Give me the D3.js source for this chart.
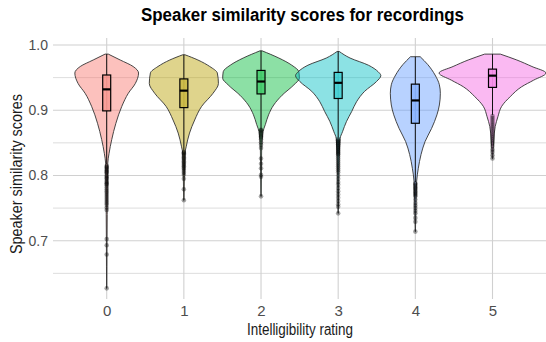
<!DOCTYPE html>
<html>
<head>
<meta charset="utf-8">
<script src="https://cdn.jsdelivr.net/npm/d3@7"></script>
<style>
  html, body { margin: 0; padding: 0; background: #fff; }
  svg { display: block; }
  text { font-family: "Liberation Sans", Arial, sans-serif; }
</style>
</head>
<body>
<svg id="chart" width="546" height="342"></svg>
<script>
// ---------------- data ----------------
const categories = ["0", "1", "2", "3", "4", "5"];
const colors = ["#F8766D", "#B79F00", "#00BA38", "#00BFC4", "#619CFF", "#F564E3"];
const yTicks = [0.7, 0.8, 0.9, 1.0];
const yMinorTicks = [0.65, 0.75, 0.85, 0.95];

// violin density profiles: [score, relative density]
const violin0 = [[0.986,0.03],[0.977,0.25],[0.967,0.49],[0.957,0.59],[0.941,0.53],[0.926,0.40],[0.906,0.28],[0.88,0.17],[0.855,0.093],[0.834,0.044],[0.819,0.02],[0.78,0.012],[0.74,0.009],[0.70,0.006],[0.66,0.004],[0.627,0.002]];
const violin1 = [[0.985,0.02],[0.977,0.26],[0.967,0.48],[0.957,0.62],[0.941,0.64],[0.926,0.54],[0.906,0.33],[0.885,0.2],[0.865,0.105],[0.844,0.043],[0.834,0.02],[0.80,0.01],[0.762,0.003]];
const violin2 = [[0.991,0.02],[0.98,0.33],[0.969,0.57],[0.959,0.70],[0.949,0.71],[0.939,0.61],[0.923,0.39],[0.908,0.235],[0.893,0.14],[0.878,0.08],[0.867,0.037],[0.84,0.012],[0.80,0.006],[0.768,0.002]];
const violin3 = [[0.99,0.02],[0.98,0.22],[0.969,0.56],[0.959,0.74],[0.953,0.79],[0.944,0.71],[0.929,0.49],[0.913,0.34],[0.898,0.25],[0.883,0.155],[0.867,0.08],[0.857,0.037],[0.82,0.015],[0.78,0.008],[0.742,0.002]];
const violin4 = [[0.982,0.09],[0.970,0.23],[0.954,0.365],[0.939,0.445],[0.926,0.463],[0.908,0.445],[0.893,0.40],[0.872,0.30],[0.852,0.18],[0.832,0.105],[0.811,0.055],[0.791,0.024],[0.76,0.012],[0.714,0.002]];
const violin5 = [[0.986,0.145],[0.977,0.45],[0.967,0.73],[0.957,0.99],[0.946,0.76],[0.936,0.54],[0.921,0.33],[0.906,0.17],[0.89,0.1],[0.875,0.05],[0.855,0.024],[0.826,0.005]];
const violins = [violin0, violin1, violin2, violin3, violin4, violin5];

// box statistics: lower whisker, q1, median, q3, upper whisker
const boxLow    = [0.817, 0.838, 0.871, 0.858, 0.790, 0.893];
const boxQ1     = [0.899, 0.904, 0.925, 0.918, 0.880, 0.935];
const boxMedian = [0.932, 0.930, 0.944, 0.942, 0.915, 0.953];
const boxQ3     = [0.954, 0.948, 0.961, 0.958, 0.940, 0.963];
const boxHigh   = [0.986, 0.985, 0.991, 0.990, 0.982, 0.986];

// outliers
const outliers0 = [0.815,0.813,0.812,0.81,0.808,0.806,0.805,0.803,0.80,0.798,0.796,0.795,0.792,0.79,0.788,0.787,0.785,0.782,0.779,0.776,0.773,0.77,0.767,0.764,0.761,0.758,0.755,0.751,0.747,0.7025,0.693,0.679,0.627];
const outliers1 = [0.836,0.835,0.834,0.832,0.83,0.828,0.826,0.824,0.822,0.82,0.818,0.816,0.814,0.812,0.81,0.807,0.804,0.801,0.795,0.779,0.762];
const outliers2 = [0.87,0.869,0.868,0.866,0.864,0.862,0.86,0.858,0.855,0.851,0.847,0.842,0.826,0.818,0.811,0.801,0.798,0.768];
const outliers3 = [0.856,0.854,0.853,0.851,0.85,0.848,0.847,0.845,0.844,0.842,0.841,0.839,0.838,0.836,0.835,0.833,0.832,0.829,0.826,0.823,0.82,0.817,0.814,0.811,0.808,0.805,0.80,0.795,0.79,0.786,0.781,0.776,0.771,0.766,0.761,0.756,0.752,0.742];
const outliers4 = [0.788,0.786,0.784,0.782,0.78,0.778,0.776,0.774,0.772,0.77,0.768,0.763,0.758,0.754,0.75,0.746,0.742,0.735,0.729,0.714];
const outliers5 = [0.891,0.888,0.885,0.882,0.879,0.876,0.873,0.87,0.867,0.864,0.861,0.858,0.855,0.852,0.849,0.845,0.84,0.836,0.831,0.826];
const outliers = [outliers0, outliers1, outliers2, outliers3, outliers4, outliers5];

// ---------------- layout ----------------
const panel = { left: 53, right: 546, top: 38, bottom: 299 };
const svg = d3.select("#chart");

const x = d3.scalePoint().domain(categories).range([106.7, 492.5]);
const y = d3.scaleLinear().domain([0.6107, 1.0107]).range([panel.bottom, panel.top]);
const w = d3.scaleLinear().domain([0, 1]).range([0, 54]);

// grid
const grid = svg.append("g");
grid.selectAll(".minor").data(yMinorTicks).join("line")
  .attr("x1", panel.left).attr("x2", panel.right)
  .attr("y1", d => y(d)).attr("y2", d => y(d))
  .attr("stroke", "#d4d4d4").attr("stroke-width", 0.8);
grid.selectAll(".major").data(yTicks).join("line")
  .attr("x1", panel.left).attr("x2", panel.right)
  .attr("y1", d => y(d)).attr("y2", d => y(d))
  .attr("stroke", "#d0d0d0").attr("stroke-width", 1.1);
grid.selectAll(".vx").data(categories).join("line")
  .attr("x1", d => x(d)).attr("x2", d => x(d))
  .attr("y1", panel.top).attr("y2", panel.bottom)
  .attr("stroke", "#d0d0d0").attr("stroke-width", 1.1);

// axes
const yAxis = d3.axisLeft(y).tickValues(yTicks).tickFormat(d3.format(".1f")).tickSize(0).tickPadding(5);
const yg = svg.append("g").attr("transform", `translate(${panel.left},0)`).call(yAxis);
yg.select(".domain").remove();
yg.selectAll("text").attr("fill", "#4d4d4d").style("font-size", "14px");

const xAxis = d3.axisBottom(x).tickSize(0).tickPadding(6);
const xg = svg.append("g").attr("transform", `translate(0,${panel.bottom})`).call(xAxis);
xg.select(".domain").remove();
xg.selectAll("text").attr("fill", "#4d4d4d").style("font-size", "15px");

// violins + boxes
const area = d3.area()
  .y(d => y(d[0]))
  .curve(d3.curveMonotoneY);

const plot = svg.append("g");
categories.forEach((c, i) => {
  const cx = x(c);
  const g = plot.append("g");
  // violin
  g.append("path").datum(violins[i])
    .attr("d", area.x0(d => cx - w(d[1])).x1(d => cx + w(d[1])))
    .attr("fill", colors[i]).attr("fill-opacity", 0.45)
    .attr("stroke", "#333").attr("stroke-width", 0.9);
  // whiskers
  g.append("line").attr("x1", cx).attr("x2", cx)
    .attr("y1", y(boxHigh[i])).attr("y2", y(boxQ3[i]))
    .attr("stroke", "#111").attr("stroke-width", 1);
  g.append("line").attr("x1", cx).attr("x2", cx)
    .attr("y1", y(boxQ1[i])).attr("y2", y(boxLow[i]))
    .attr("stroke", "#111").attr("stroke-width", 1);
  // box
  g.append("rect").attr("x", cx - 4).attr("width", 8)
    .attr("y", y(boxQ3[i])).attr("height", y(boxQ1[i]) - y(boxQ3[i]))
    .attr("fill", colors[i]).attr("fill-opacity", 0.45)
    .attr("stroke", "#000").attr("stroke-width", 1.2);
  g.append("line").attr("x1", cx - 4).attr("x2", cx + 4)
    .attr("y1", y(boxMedian[i])).attr("y2", y(boxMedian[i]))
    .attr("stroke", "#000").attr("stroke-width", 2.2);
  // outliers
  g.selectAll("circle").data(outliers[i]).join("circle")
    .attr("cx", cx).attr("cy", d => y(d)).attr("r", 2.3)
    .attr("fill", "#000").attr("fill-opacity", 0.35);
});

// titles
svg.append("text").attr("x", 302.5).attr("y", 21).attr("text-anchor", "middle")
  .style("font-size", "18px").style("font-weight", "bold").attr("fill", "#000")
  .attr("textLength", 323).attr("lengthAdjust", "spacingAndGlyphs")
  .text("Speaker similarity scores for recordings");
svg.append("text").attr("x", 300).attr("y", 335).attr("text-anchor", "middle")
  .style("font-size", "16px").attr("fill", "#1a1a1a")
  .attr("textLength", 106).attr("lengthAdjust", "spacingAndGlyphs")
  .text("Intelligibility rating");
svg.append("text").attr("transform", "translate(22,174) rotate(-90)").attr("text-anchor", "middle")
  .style("font-size", "16px").attr("fill", "#1a1a1a")
  .attr("textLength", 160).attr("lengthAdjust", "spacingAndGlyphs")
  .text("Speaker similarity scores");
</script>
</body>
</html>
